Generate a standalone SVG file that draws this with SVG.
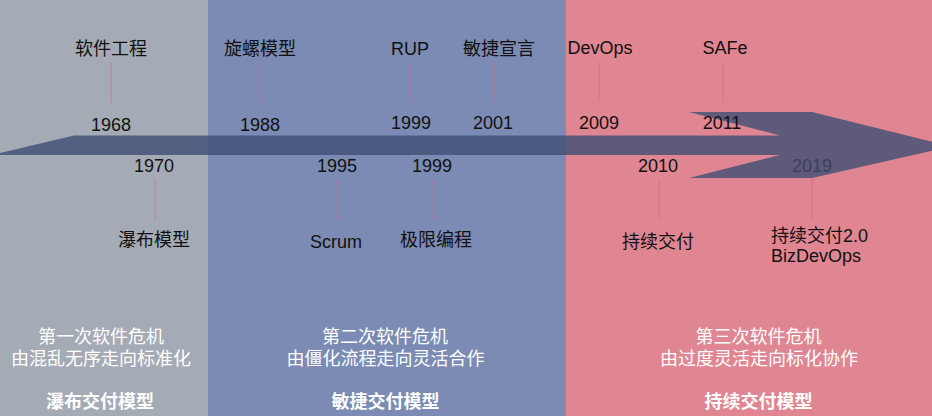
<svg xmlns="http://www.w3.org/2000/svg" width="932" height="416" viewBox="0 0 932 416">
<style>
.t{font-family:"Liberation Sans","Noto Sans CJK SC",sans-serif;font-size:18px;fill:#111;text-anchor:middle}
.w{font-family:"Liberation Sans","Noto Sans CJK SC",sans-serif;font-size:18px;fill:#fff;text-anchor:middle}
.b{font-weight:bold}
.tick{stroke:#E06080;stroke-opacity:0.6;stroke-width:1}
</style>
<g id="panels">
<rect x="0" y="0" width="208" height="416" fill="#A4ABB5"/>
<rect x="208" y="0" width="358" height="416" fill="#7B8BB3"/>
<rect x="566" y="0" width="366" height="416" fill="#E08692"/>
</g>
<g id="e2019">
<text class="t" x="812" y="172">2019</text>
<text class="t" x="771" y="242" style="text-anchor:start">持续交付2.0</text>
<text class="t" x="771" y="262" style="text-anchor:start">BizDevOps</text>
</g>
<g id="timeline-arrow">
<polygon points="0,153 74,135.5 780,135.5 689,112 812,112 951,146.5 812,178 689,178 780,155 0,155" fill="#3E4D74" fill-opacity="0.8"/>
</g>
<g id="connectors">
<line class="tick" x1="111" y1="62" x2="111" y2="103"/>
<line class="tick" x1="155" y1="179" x2="155" y2="219"/>
<line class="tick" x1="261" y1="62" x2="261" y2="103"/>
<line class="tick" x1="337" y1="179" x2="337" y2="219"/>
<line class="tick" x1="411" y1="62" x2="411" y2="102"/>
<line class="tick" x1="433" y1="179" x2="433" y2="219"/>
<line class="tick" x1="494" y1="62" x2="494" y2="102"/>
<line class="tick" x1="599" y1="62" x2="599" y2="102"/>
<line class="tick" x1="659" y1="179" x2="659" y2="219"/>
<line class="tick" x1="723" y1="62" x2="723" y2="102"/>
<line class="tick" x1="812" y1="178" x2="812" y2="219"/>
</g>
<g id="e1968"><text class="t" x="111" y="55">软件工程</text><text class="t" x="111" y="131">1968</text></g>
<g id="e1970"><text class="t" x="154" y="172">1970</text><text class="t" x="154" y="246">瀑布模型</text></g>
<g id="e1988"><text class="t" x="260" y="55">旋螺模型</text><text class="t" x="260" y="131">1988</text></g>
<g id="e1995"><text class="t" x="337" y="172">1995</text><text class="t" x="336" y="248">Scrum</text></g>
<g id="e1999a"><text class="t" x="410" y="55">RUP</text><text class="t" x="411" y="129">1999</text></g>
<g id="e1999b"><text class="t" x="432" y="172">1999</text><text class="t" x="436" y="246">极限编程</text></g>
<g id="e2001"><text class="t" x="499" y="55">敏捷宣言</text><text class="t" x="493" y="129">2001</text></g>
<g id="e2009"><text class="t" x="600" y="54">DevOps</text><text class="t" x="599" y="129">2009</text></g>
<g id="e2010"><text class="t" x="658" y="172">2010</text><text class="t" x="658" y="248">持续交付</text></g>
<g id="e2011"><text class="t" x="725" y="54">SAFe</text><text class="t" x="722" y="129">2011</text></g>
<g id="era1">
<text class="w" x="101" y="343">第一次软件危机</text>
<text class="w" x="101" y="365">由混乱无序走向标准化</text>
<text class="w b" x="100" y="408">瀑布交付模型</text>
</g>
<g id="era2">
<text class="w" x="385" y="343">第二次软件危机</text>
<text class="w" x="385.5" y="365">由僵化流程走向灵活合作</text>
<text class="w b" x="385.5" y="408">敏捷交付模型</text>
</g>
<g id="era3">
<text class="w" x="758.5" y="343">第三次软件危机</text>
<text class="w" x="759" y="365">由过度灵活走向标化协作</text>
<text class="w b" x="758.5" y="408">持续交付模型</text>
</g>
</svg>
